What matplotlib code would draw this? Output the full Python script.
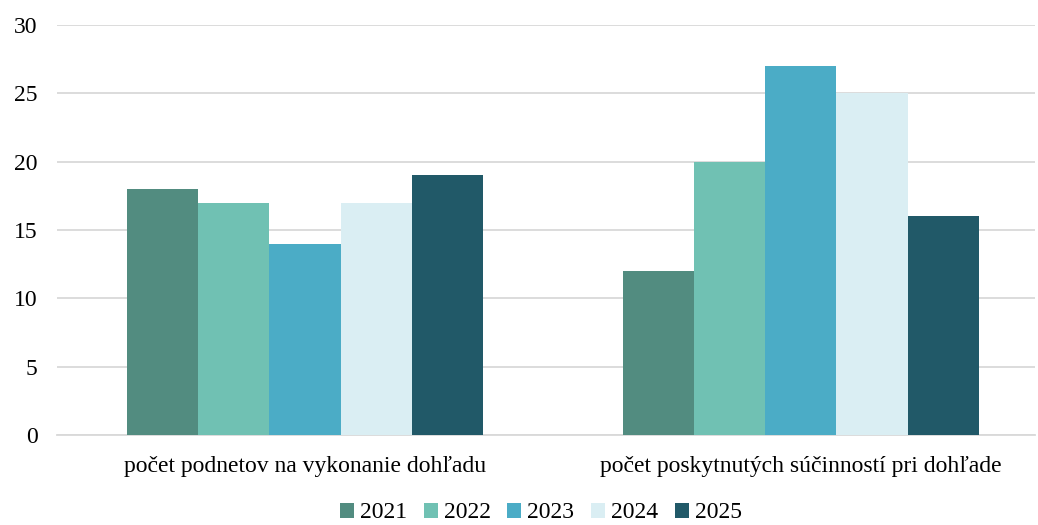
import matplotlib
matplotlib.use("Agg")
from matplotlib import pyplot as plt
import numpy as np

# Data
categories = ["počet podnetov na vykonanie dohľadu",
              "počet poskytnutých súčinností pri dohľade"]
years = ["2021", "2022", "2023", "2024", "2025"]
values = {
    "2021": [18, 12],
    "2022": [17, 20],
    "2023": [14, 27],
    "2024": [17, 25],
    "2025": [19, 16],
}
colors = ["#528C80", "#70C1B3", "#4BACC6", "#DAEEF3", "#215968"]

plt.rcParams['font.family'] = ['Liberation Serif', 'DejaVu Serif']

fig = plt.figure(figsize=(10.38, 5.25), dpi=100)
ax = fig.add_axes([57/1038, 90/525, (1035-57)/1038, 410/525])

x = np.arange(len(categories))
w = 0.1435
for i, yr in enumerate(years):
    ax.bar(x + (i - 2) * w, values[yr], width=w, color=colors[i], label=yr, zorder=3)

ax.set_xlim(-0.5, 1.472)
ax.set_ylim(0, 30)
ax.set_yticks(range(0, 31, 5))
ax.set_xticks(x)
ax.set_xticklabels(categories)
ax.yaxis.grid(True, color='#D9D9D9', lw=1.3, zorder=0)
for s in ['top', 'right', 'left']:
    ax.spines[s].set_visible(False)
ax.spines['bottom'].set_color('#D9D9D9')
ax.spines['bottom'].set_linewidth(1.3)
ax.tick_params(axis='both', length=0, labelsize=17)
ax.tick_params(axis='y', pad=14)
ax.tick_params(axis='x', pad=15)

fig.legend(loc='center', bbox_to_anchor=(0.521, 12/525), ncol=5, frameon=False,
           fontsize=17, handlelength=0.6, handleheight=0.6, handletextpad=0.25,
           columnspacing=0.7, borderaxespad=0)

fig.savefig("out.png", dpi=100)
